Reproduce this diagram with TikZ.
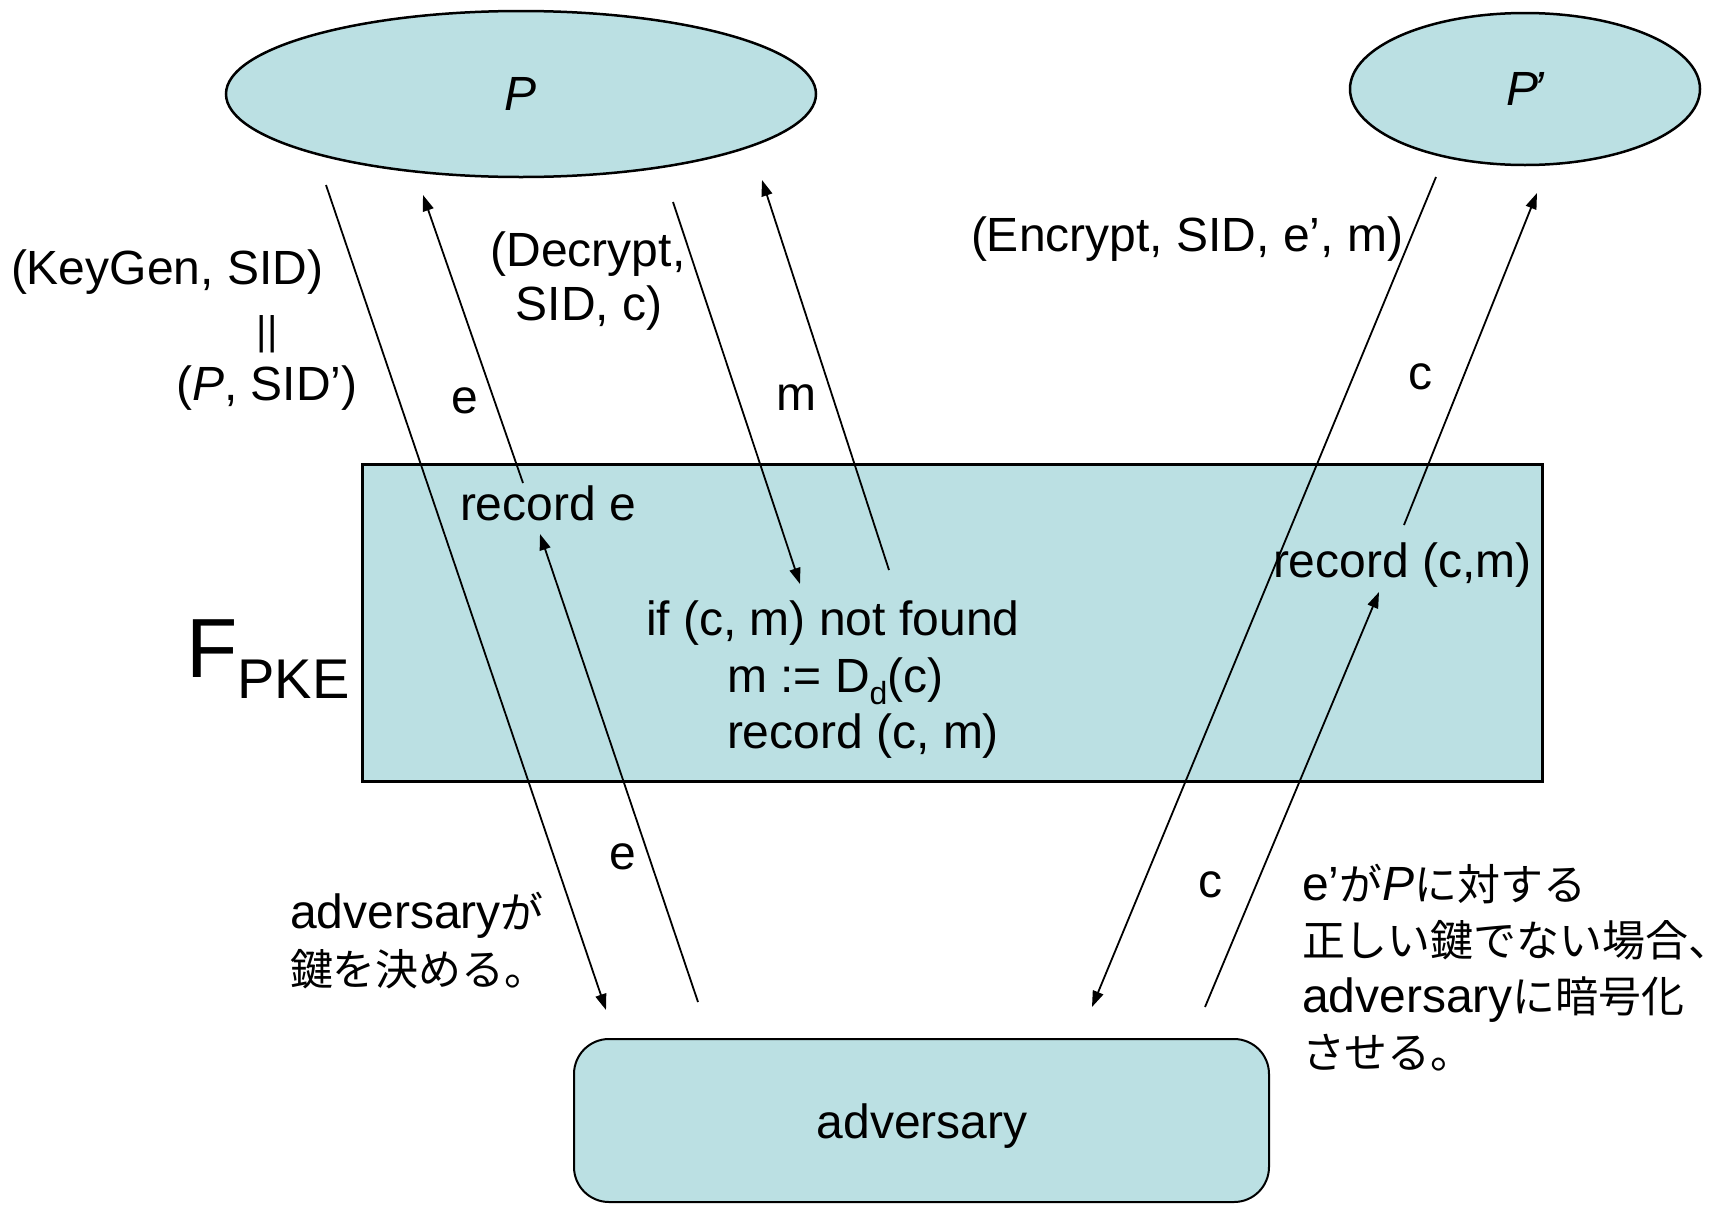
\documentclass[tikz,border=0pt]{standalone}
\usepackage{fontspec}
\setmainfont{Liberation Sans}
\newfontfamily\jp[Scale=0.895]{Noto Sans CJK JP}
\usetikzlibrary{arrows.meta,shapes.geometric}
\definecolor{cellfill}{RGB}{187,224,227}
\begin{document}
\begin{tikzpicture}[x=1pt,y=-1pt,
  every node/.style={inner sep=0pt,outer sep=0pt},
  txt/.style={font=\fontsize{48}{57}\selectfont},
  party/.style={ellipse,draw,line width=2.5pt,fill=cellfill,font=\fontsize{48}{57}\selectfont\itshape},
  funcbox/.style={draw,line width=3pt,fill=cellfill},
  advbox/.style={draw,line width=2pt,fill=cellfill,rounded corners=35pt},
  arr/.style={line width=1.8pt,-{Triangle[length=16pt,width=11pt]}}]
\useasboundingbox (0,0) rectangle (1733,1205);

% parties, ideal functionality and adversary
\node[party,minimum width=590pt,minimum height=166pt] (P) at (521,94) {P};
\node[party,minimum width=350pt,minimum height=152pt] (Pp) at (1525,89) {P\kern-5pt’};
\node[funcbox,minimum width=1180pt,minimum height=317pt] (F) at (952,622.5) {};
\node[advbox,minimum width=695pt,minimum height=163pt] (A) at (921.5,1120.5) {};
\node[txt,anchor=base] (advname) at (922,1138) {adversary};

% functionality name
\node[anchor=base west] (fpke) at (186,677)
  {\fontsize{84}{90}\selectfont F\fontsize{56}{60}\selectfont\raisebox{-21pt}{PKE}};

% texts inside the functionality
\node[txt,anchor=base west] (rece) at (460,520) {record e};
\node[txt,anchor=base west] (reccm) at (1273,577) {record (c,m)};
\node[txt,anchor=base west] (dec1) at (646,635) {if (c, m) not found};
\node[txt,anchor=base west] (dec2) at (727,692) {m := D\raisebox{-12pt}{\fontsize{32}{32}\selectfont d}(c)};
\node[txt,anchor=base west] (dec3) at (727,748) {record (c, m)};

% message end points
\coordinate (kgS) at (326,185);   \coordinate (kgE) at (606,1010);
\coordinate (eS)  at (523,483);   \coordinate (eE)  at (423,195);
\coordinate (dS)  at (673,202);   \coordinate (dE)  at (800,584);
\coordinate (mS)  at (889,570);   \coordinate (mE)  at (762,180);
\coordinate (aeS) at (698,1002);  \coordinate (aeE) at (540,534);
\coordinate (enS) at (1436,177);  \coordinate (enE) at (1092,1007);
\coordinate (acS) at (1205,1007); \coordinate (acE) at (1379,592);
\coordinate (cS)  at (1404,525);  \coordinate (cE)  at (1537,193);

% messages
\draw[arr] (kgS) -- (kgE);
\draw[arr] (eS) -- (eE);
\draw[arr] (dS) -- (dE);
\draw[arr] (mS) -- (mE);
\draw[arr] (aeS) -- (aeE);
\draw[arr] (enS) -- (enE);
\draw[arr] (acS) -- (acE);
\draw[arr] (cS) -- (cE);

% message labels
\node[txt,anchor=base west] (kg) at (11,284) {(KeyGen, SID)};
\node[font=\fontsize{40}{48}\selectfont] (bars) at (267,334) {||};
\node[txt,anchor=base] (psid) at (267,400) {(\textit{P}, SID’)};
\node[txt,anchor=base] (le) at (465,413) {e};
\node[txt,anchor=base] (dl1) at (588,266) {(Decrypt,};
\node[txt,anchor=base] (dl2) at (589,320) {SID, c)};
\node[txt,anchor=base] (lm) at (796,410) {m};
\node[txt,anchor=base west] (enc) at (971,251) {(Encrypt, SID, e’, m)};
\node[txt,anchor=base] (lc1) at (1420,389) {c};
\node[txt,anchor=base] (le2) at (623,869) {e};
\node[txt,anchor=base] (lc2) at (1210,897) {c};

% notes
\node[txt,anchor=base west] (n1) at (290,928) {adversary{\jp が}};
\node[txt,anchor=base west] (n2) at (290,985) {\jp 鍵を決める。};
\node[txt,anchor=base west] (j1) at (1302,900) {e’{\jp が}\textit{P}{\jp に対する}};
\node[txt,anchor=base west] (j2) at (1302,956) {\jp 正しい鍵でない場合、};
\node[txt,anchor=base west] (j3) at (1302,1012) {adversary{\jp に暗号化}};
\node[txt,anchor=base west] (j4) at (1302,1068) {\jp させる。};
\end{tikzpicture}
\end{document}
